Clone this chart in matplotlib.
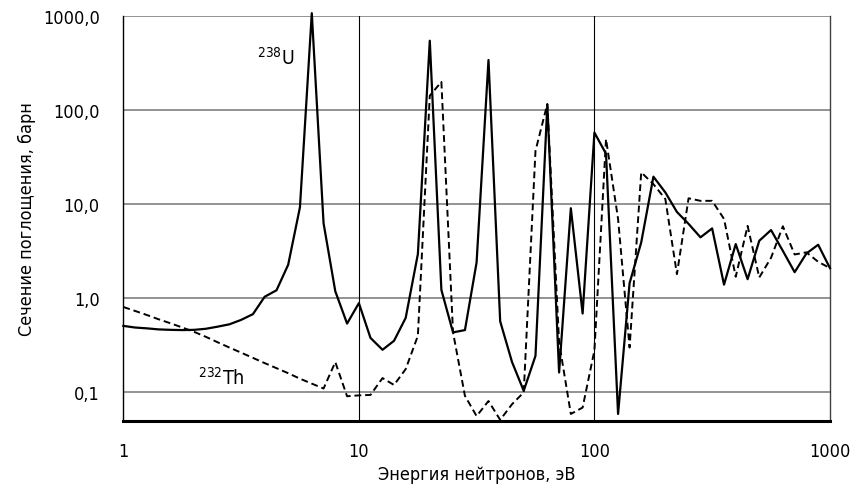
import matplotlib
matplotlib.use("Agg")
import matplotlib.pyplot as plt

# Energy grid, eV
energy = [1.00, 1.12, 1.26, 1.41, 1.58, 1.78, 2.00, 2.24, 2.51, 2.82,
          3.16, 3.55, 3.98, 4.47, 5.01, 5.62, 6.31, 7.08, 7.94, 8.91,
          10.0, 11.2, 12.6, 14.1, 15.8, 17.8, 20.0, 22.4, 25.1, 28.2,
          31.6, 35.5, 39.8, 44.7, 50.1, 56.2, 63.1, 70.8, 79.4, 89.1,
          100, 112, 126, 141, 158, 178, 200, 224, 251, 282,
          316, 355, 398, 447, 501, 562, 631, 708, 794, 891, 1000]

# 238U absorption cross-section, barn
u238 = [0.51, 0.49, 0.48, 0.468, 0.463, 0.46, 0.463, 0.475, 0.50, 0.53,
        0.59, 0.68, 1.04, 1.22, 2.28, 9.3, 1080, 6.3, 1.19, 0.54,
        0.89, 0.38, 0.284, 0.354, 0.62, 2.96, 550, 1.23, 0.435, 0.46,
        2.41, 343, 0.57, 0.21, 0.104, 0.245, 114, 0.163, 9.1, 0.69,
        58, 34.5, 0.059, 1.45, 3.94, 19.7, 13.4, 8.3, 6.2, 4.46,
        5.55, 1.40, 3.78, 1.60, 4.1, 5.33, 3.2, 1.9, 3.0, 3.72, 2.1]

# 232Th absorption cross-section, barn
th232 = [0.81, 0.736, 0.665, 0.60, 0.545, 0.49, 0.44, 0.39, 0.342, 0.30,
         0.265, 0.233, 0.205, 0.181, 0.16, 0.14, 0.124, 0.11, 0.21, 0.091,
         0.093, 0.094, 0.142, 0.12, 0.177, 0.40, 143, 201, 0.435, 0.092,
         0.056, 0.081, 0.051, 0.075, 0.10, 37, 117, 0.34, 0.059, 0.069,
         0.28, 49.5, 7.0, 0.30, 21.9, 16.4, 11.4, 1.81, 11.6, 10.9,
         10.9, 7.0, 1.7, 5.9, 1.67, 2.7, 5.85, 2.93, 3.09, 2.45, 2.1]

x_ticks = [1, 10, 100, 1000]
x_tick_labels = ["1", "10", "100", "1000"]
y_ticks = [0.1, 1, 10, 100, 1000]
y_tick_labels = ["0,1", "1,0", "10,0", "100,0", "1000,0"]

plt.rcParams['font.family'] = ['DejaVu Sans']
plt.rcParams['font.stretch'] = 'condensed'

fig = plt.figure(figsize=(8.53, 4.89), dpi=100)
ax = fig.add_axes([0.1446, 0.1376, 0.973 - 0.1446, 0.9646 - 0.1376])

ax.set_xscale('log')
ax.set_yscale('log')
ax.set_xlim(1, 1000)
ax.set_ylim(0.05, 1000)

# grid
for yv in y_ticks:
    ax.axhline(yv, color='#808080', lw=1.2, zorder=1)
for xv in [10, 100]:
    ax.axvline(xv, color='#000000', lw=0.8, zorder=1)

ax.plot(energy, u238, color='black', lw=1.6, zorder=3, clip_on=False)
ax.plot(energy, th232, color='black', lw=1.4, ls=(0, (3.5, 2)), zorder=3)

ax.set_xticks(x_ticks)
ax.set_xticklabels(x_tick_labels)
ax.set_yticks(y_ticks)
ax.set_yticklabels(y_tick_labels)
ax.minorticks_off()
ax.tick_params(axis='both', length=0, labelsize=13, colors='black')
ax.tick_params(axis='x', pad=15)
ax.tick_params(axis='y', pad=17)

ax.spines['top'].set_visible(False)
ax.spines['bottom'].set_linewidth(2.2)
ax.spines['left'].set_linewidth(1.0)
ax.spines['right'].set_linewidth(1.0)
ax.spines['right'].set_color('#404040')

ax.set_xlabel("Энергия нейтронов, эВ", fontsize=13, labelpad=4)
ax.set_ylabel("Сечение поглощения, барн", fontsize=13, labelpad=5)

ax.text(4.45, 370, r"$^{238}$U", fontsize=14, ha='center', va='center')
ax.text(2.6, 0.145, r"$^{232}$Th", fontsize=14, ha='center', va='center')

fig.savefig("out.png", dpi=100)
